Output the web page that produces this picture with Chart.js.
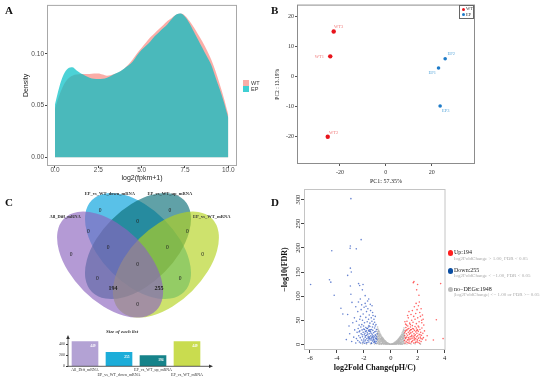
<!DOCTYPE html>
<html>
<head>
<meta charset="utf-8">
<script src="https://cdn.jsdelivr.net/npm/chart.js@4.4.0/dist/chart.umd.min.js"></script>
<style>
  body { margin: 0; background: #fff; }
  #fig { position: relative; width: 550px; height: 378px; overflow: hidden; font-family: "Liberation Serif", "Times New Roman", serif; }
  #fig canvas { position: absolute; }
  .t { position: absolute; white-space: nowrap; }
  .panel { font-weight: bold; font-size: 11px; line-height: 11px; color: #111; }
  .sw { position: absolute; }
  .dot { position: absolute; border-radius: 50%; }
</style>
</head>
<body>
<div id="fig">
  <canvas id="cDensity" width="270" height="185" style="left:0;top:0"></canvas>
  <canvas id="cPca" width="280" height="185" style="left:270px;top:0"></canvas>
  <canvas id="cVenn" width="275" height="140" style="left:0;top:185px"></canvas>
  <canvas id="cSizes" width="180" height="53" style="left:40px;top:325px"></canvas>
  <canvas id="cVolcano" width="280" height="193" style="left:270px;top:185px"></canvas>

  <div class="t panel" style="left:5px;top:5px">A</div>
  <div class="t panel" style="left:271px;top:5px">B</div>
  <div class="t panel" style="left:5px;top:197px">C</div>
  <div class="t panel" style="left:271px;top:197px">D</div>

  <!-- density legend -->
  <div class="sw" style="left:243px;top:79.5px;width:6px;height:6px;background:rgba(248,118,109,0.6)"></div>
  <div class="sw" style="left:243px;top:85.5px;width:6px;height:6px;background:rgba(0,191,196,0.75)"></div>
  <div class="t" style="left:251px;top:78.5px;font:5.5px/8px 'Liberation Sans',sans-serif;color:#333">WT</div>
  <div class="t" style="left:251px;top:84.5px;font:5.5px/8px 'Liberation Sans',sans-serif;color:#333">EP</div>

  <!-- PCA legend -->
  <div style="position:absolute;left:459px;top:5px;width:15px;height:14px;border:1px solid #666;box-sizing:border-box;background:#fff"></div>
  <div class="dot" style="left:461.5px;top:7.5px;width:3px;height:3px;background:#e8141c"></div>
  <div class="dot" style="left:461.5px;top:13px;width:3px;height:3px;background:#1e7bc8"></div>
  <div class="t" style="left:466px;top:6px;font-size:4.5px;line-height:6px;color:#333">WT</div>
  <div class="t" style="left:466px;top:11.5px;font-size:4.5px;line-height:6px;color:#333">EP</div>

  <!-- volcano legend -->
  <div class="dot" style="left:447.5px;top:250px;width:5.5px;height:5.5px;background:#ff2020"></div>
  <div class="t" style="left:454px;top:249px;font-size:6px;line-height:7px;color:#222">Up:194</div>
  <div class="t" style="left:454px;top:256px;font-size:5px;line-height:6px;color:#aaa">log2FoldChange &gt; 1.00, FDR &lt; 0.05</div>
  <div class="dot" style="left:447.5px;top:268px;width:5.5px;height:5.5px;background:#0b4ea2"></div>
  <div class="t" style="left:454px;top:267px;font-size:6px;line-height:7px;color:#222">Down:255</div>
  <div class="t" style="left:454px;top:273px;font-size:5px;line-height:6px;color:#aaa">log2FoldChange &lt; &minus;1.00, FDR &lt; 0.05</div>
  <div class="dot" style="left:447.5px;top:286.5px;width:5.5px;height:5.5px;background:#bdbdbd"></div>
  <div class="t" style="left:454px;top:285.5px;font-size:6px;line-height:7px;color:#222">no&minus;DEGs:1948</div>
  <div class="t" style="left:454px;top:292px;font-size:5px;line-height:6px;color:#aaa">|log2FoldChange| &lt;= 1.00 or FDR &gt;= 0.05</div>
</div>

<script>
// ---------- data ----------
// A: expression density
const densityX = [0, 0.25, 0.5, 0.75, 1, 1.25, 1.5, 1.75, 2, 2.25, 2.5, 2.75, 3, 3.25, 3.5, 3.75, 4, 4.25, 4.5, 4.75,
  5, 5.25, 5.5, 5.75, 6, 6.25, 6.5, 6.75, 7, 7.25, 7.5, 7.75, 8, 8.25, 8.5, 8.75, 9, 9.25, 9.5, 9.75, 10];
const wtDensity = [0.047, 0.060, 0.070, 0.076, 0.079, 0.080, 0.0805, 0.0805, 0.0805, 0.081, 0.081, 0.080, 0.079, 0.0795,
  0.081, 0.083, 0.086, 0.090, 0.095, 0.101, 0.106, 0.111, 0.116, 0.120, 0.124, 0.128, 0.132, 0.135, 0.138, 0.139,
  0.137, 0.132, 0.126, 0.119, 0.112, 0.104, 0.095, 0.084, 0.071, 0.057, 0.041];
const epDensity = [0.051, 0.068, 0.080, 0.086, 0.087, 0.084, 0.081, 0.079, 0.077, 0.076, 0.0758, 0.076, 0.077, 0.079,
  0.081, 0.083, 0.086, 0.089, 0.093, 0.099, 0.104, 0.108, 0.112, 0.117, 0.121, 0.125, 0.129, 0.134, 0.138, 0.139,
  0.136, 0.130, 0.122, 0.114, 0.106, 0.098, 0.090, 0.078, 0.066, 0.053, 0.038];
const densityTicksX = [0, 2.5, 5, 7.5, 10];
const densityTicksY = [0, 0.05, 0.10];

// B: PCA
const wtNames = ['WT1', 'WT2', 'WT3'];
const wtPC1 = [-24.2, -25.3, -22.7];
const wtPC2 = [6.7, -20.2, 15.0];
const epNames = ['EP1', 'EP2', 'EP3'];
const epPC1 = [23.0, 25.9, 23.7];
const epPC2 = [2.8, 5.9, -9.9];
const pcaTicksX = [-20, 0, 20];
const pcaTicksY = [-20, -10, 0, 10, 20];

// C: Venn + set sizes
const vennSets = ['All_Diff_mRNA', 'EP_vs_WT_down_mRNA', 'EP_vs_WT_up_mRNA', 'EP_vs_WT_mRNA'];
const vennRegions = ['A', 'B', 'C', 'D', 'AB', 'BC', 'CD', 'AD', 'AC', 'BD', 'ABC', 'BCD', 'ACD', 'ABD', 'ABCD'];
const vennCounts = [0, 0, 0, 0, 0, 0, 0, 0, 0, 0, 0, 0, 194, 255, 0];
const setSizes = [449, 255, 194, 449];
const setTicks = [0, 200, 400];

// D: volcano  [log2FC, -log10(FDR)]
const upPoints = [
  [1.67,128],[1.99,124],[1.92,113],[2.09,102],[2.29,50],[3.38,51],[3.7,126],[3.16,9],[3.88,12],[1.72,130],
  [1.1,42],[1.2,48],[1.3,55],[1.4,44],[1.5,62],[1.55,50],[1.6,70],[1.65,46],[1.7,58],[1.75,78],
  [1.8,52],[1.85,64],[1.9,43],[1.95,72],[2.0,55],[2.05,80],[2.1,47],[2.15,66],[2.2,58],[2.25,74],
  [2.3,45],[2.35,61],[1.35,68],[1.45,41],[2.12,88],[1.88,85],[2.4,52],[1.25,60],[1.05,47],[2.45,40],
  [1.02,8],[1.04,18],[1.06,3],[1.08,27],[1.1,12],[1.12,35],[1.14,6],[1.16,22],[1.18,15],[1.2,30],
  [1.22,4],[1.24,19],[1.26,38],[1.28,10],[1.3,25],[1.32,14],[1.34,33],[1.36,7],[1.38,21],[1.4,28],
  [1.42,2.5],[1.44,16],[1.46,36],[1.48,11],[1.5,24],[1.52,31],[1.54,5],[1.56,19],[1.58,13],[1.6,39],
  [1.62,26],[1.64,8],[1.66,17],[1.68,32],[1.7,3],[1.72,22],[1.74,14],[1.76,29],[1.78,9],[1.8,37],
  [1.82,20],[1.84,12],[1.86,26],[1.88,5],[1.9,34],[1.92,16],[1.94,23],[1.96,10],[1.98,30],[2.0,18],
  [2.02,4],[2.04,27],[2.06,13],[2.08,36],[2.1,21],[2.13,8],[2.16,31],[2.19,15],[2.22,25],[2.25,6],
  [2.28,19],[2.31,34],[2.34,11],[2.38,23],[2.42,14],[2.5,28],[2.6,9],[2.7,18],[1.03,24],[1.13,29],
  [1.23,9],[1.33,3],[1.43,23],[1.53,17],[1.63,33],[1.73,11],[1.83,4],[1.93,29],[2.03,38],[2.14,2.5],
  [2.24,12],[1.17,40],[1.47,30],[1.07,14],[1.27,32],[1.57,6],[1.77,18],[1.97,7],[2.17,20],[1.37,11]
];
const downPoints = [
  [-2.96,302],[-4.38,194],[-3.0,204],[-3.02,199],[-2.56,198],[-2.2,217],[-5.95,124],[-4.55,134],[-4.45,129],[-4.2,102],
  [-3.7,75],[-3.56,63],[-3.2,62],[-3.0,158],[-2.93,150],[-3.2,143],[-3.0,121],[-2.96,104],[-2.88,87],[-2.39,126],
  [-2.31,122],[-2.06,124],[-2.11,113],[-2.26,94],[-2.16,82],[-1.9,101],[-1.64,94],[-1.84,79],[-1.39,80],[-1.32,60],
  [-2.7,55],[-2.55,48],[-2.45,68],[-2.35,40],[-2.25,58],[-2.2,72],[-2.1,50],[-2.05,63],[-1.95,45],[-1.9,85],
  [-1.85,56],[-1.8,68],[-1.75,47],[-1.7,74],[-1.65,52],[-1.6,61],[-1.55,44],[-1.5,70],[-1.45,55],[-1.4,48],
  [-1.35,66],[-1.3,42],[-1.25,52],[-1.2,46],[-1.15,58],[-1.1,41],[-2.6,78],[-2.4,88],[-2.15,41],[-1.98,77],
  [-1.72,90],[-1.52,83],[-2.82,45],[-3.1,38],[-2.3,52],[-1.62,39],
  [-2.55,12],[-2.5,25],[-2.45,8],[-2.42,33],[-2.38,18],[-2.33,5],[-2.3,28],[-2.27,14],[-2.22,36],[-2.2,22],
  [-2.17,9],[-2.13,30],[-2.1,16],[-2.07,4],[-2.05,25],[-2.02,38],[-2.0,11],[-1.97,20],[-1.95,31],[-1.92,7],
  [-1.9,15],[-1.88,27],[-1.85,35],[-1.83,3],[-1.8,19],[-1.78,12],[-1.75,24],[-1.73,33],[-1.7,8],[-1.68,17],
  [-1.65,28],[-1.63,5],[-1.6,22],[-1.58,13],[-1.55,37],[-1.53,9],[-1.5,26],[-1.48,18],[-1.45,3],[-1.43,31],
  [-1.4,14],[-1.38,21],[-1.35,7],[-1.33,29],[-1.3,11],[-1.28,24],[-1.25,4],[-1.23,17],[-1.2,34],[-1.18,9],
  [-1.15,20],[-1.13,13],[-1.1,27],[-1.08,6],[-1.05,16],[-1.03,10],[-1.02,22],[-1.12,2.5],[-1.22,6],[-1.42,2.2],
  [-1.62,11],[-1.87,9],[-2.12,20],[-2.35,26],[-2.6,3],[-2.75,15],[-2.9,6],[-3.05,22],[-3.3,10],[-2.68,30],
  [-1.06,31],[-1.16,38],[-1.26,14],[-1.36,36],[-1.46,23],[-1.56,16],[-1.66,36],[-1.76,4],[-1.96,2.5],[-2.24,3],
  [-1.32,18],[-1.52,30],[-1.72,21],[-1.92,23],[-1.11,18],[-1.19,26],[-1.41,9],[-1.61,30],[-1.81,28],[-2.01,32],
  [-1.07,12],[-1.17,5],[-1.27,9],[-1.37,16],[-1.47,12],[-1.57,27],[-1.67,14],[-1.77,33],[-1.87,18],[-2.04,7]
];
const nsPoints = [
  [0,0.2],[0.05,0.5],[-0.05,0.4],[0.1,1],[-0.1,0.9],[0.15,1.5],[-0.15,1.8],[0.2,2.5],[-0.2,2.2],[0.25,3],
  [-0.25,3.4],[0.3,4.2],[-0.3,3.9],[0.35,5],[-0.35,5.5],[0.4,6.2],[-0.4,6.8],[0.45,7.5],[-0.45,8],[0.5,9],
  [-0.5,9.5],[0.55,10.5],[-0.55,11.5],[0.6,12],[-0.6,13.5],[0.65,14],[-0.65,15],[0.7,16.5],[-0.7,17.5],[0.75,18],
  [-0.75,20],[0.8,21],[-0.8,23],[0.85,24],[-0.85,26],[0.9,27],[-0.9,29],[0.95,30],[-0.95,32],[0.98,34],
  [-0.98,36],[0.12,0.4],[-0.12,0.3],[0.22,0.9],[-0.22,1.1],[0.28,1.6],[-0.28,1.2],[0.33,2.1],[-0.33,2.6],[0.38,1.4],
  [-0.38,3.1],[0.42,3.6],[-0.42,2],[0.48,4.5],[-0.48,5.2],[0.52,2.8],[-0.52,6.1],[0.57,6.6],[-0.57,3.8],[0.62,8.1],
  [-0.62,7.2],[0.67,4.9],[-0.67,9.7],[0.72,10.9],[-0.72,5.6],[0.77,7.4],[-0.77,12.3],[0.82,13.8],[-0.82,8.9],[0.87,9.6],
  [-0.87,16.2],[0.92,17.5],[-0.92,11.4],[0.96,12.8],[-0.96,19.8],[0.99,21.6],[-0.99,14.7],[0.58,1.2],[-0.63,1.7],[0.7,2.3],
  [-0.75,2.9],[0.8,3.3],[-0.84,4.1],[0.88,5.4],[-0.9,6.3],[0.94,7.8],[-0.94,9.1],[0.78,0.8],[-0.7,0.6],[0.9,1.1],
  [-0.88,0.9],[0.97,25.5],[-0.97,24],[0.93,22.4],[-0.93,27],[0.84,18.6],[-0.86,21],[0.74,14.6],[-0.78,16.9],[0.64,11.2],
  [-0.68,13],[0.54,7.9],[-0.58,9.8],[-1.2,0.8],[-1.5,1.0],[-1.8,0.6],[-2.1,1.1],[1.2,0.9],[1.5,0.7],[1.8,1.1],
  [2.2,0.5],[-1.05,1.2],[1.05,1.1],
  [0.08,0.2],[-0.08,0.6],[0.18,0.5],[-0.18,0.7],[0.27,0.6],[-0.27,0.5],[0.32,1],[-0.32,0.8],[0.36,3],[-0.36,1.6],
  [0.41,0.7],[-0.41,4.4],[0.44,2.2],[-0.44,1],[0.47,6],[-0.47,3],[0.5,1.5],[-0.5,7],[0.53,5.5],[-0.53,1.9],
  [0.56,3.7],[-0.56,8.5],[0.59,9.6],[-0.59,5],[0.61,0.6],[-0.61,10.6],[0.63,6.4],[-0.63,3.1],[0.66,2.1],[-0.66,11.8],
  [0.68,12.5],[-0.68,7.6],[0.69,8.8],[-0.69,1.1],[0.71,4.2],[-0.71,14.8],[0.73,13.1],[-0.73,9.2],[0.76,1.6],[-0.76,10.4],
  [0.79,15.6],[-0.79,6.1],[0.81,10.2],[-0.81,18.5],[0.83,6.3],[-0.83,13.5],[0.86,20.5],[-0.86,2.4],[0.89,14.5],[-0.89,22.8],
  [0.91,3.5],[-0.91,17.9],[0.92,11.9],[-0.92,5.2],[0.95,19.2],[-0.95,26.5],[0.96,5.8],[-0.96,12.2],[0.98,16],[-0.98,8.4],
  [1.0,28.7],[-1.0,31],[0.99,9.3],[-0.99,4.6],[0.97,2.2],[-0.97,1.8],[0.85,0.5],[-0.85,0.4],[0.72,0.3],[-0.74,0.9],
  [0.65,1.9],[-0.6,2.5],[0.55,0.8],[-0.55,0.3],[0.45,1.2],[-0.46,1.4],[0.37,0.5],[-0.37,0.3],[0.6,4.6],[-0.64,5.8],
  [0.75,5.1],[-0.8,7.7],[0.87,12.1],[-0.87,11.1],[0.93,15.2],[-0.93,15.6],[0.96,22.1],[-0.96,21.4],[1.0,18.6],[-1.0,20.2],
  [0.82,16.7],[-0.82,19.4],[0.7,11.2],[-0.7,12.4],[0.58,7.1],[-0.6,8.8]
];
const volcanoTicksX = [-6, -4, -2, 0, 2, 4];
const volcanoTicksY = [0, 50, 100, 150, 200, 250, 300];

// ---------- layout / style ----------
const SERIF = '"Liberation Serif", "Times New Roman", serif';
const SANS = '"Liberation Sans", Arial, sans-serif';
Chart.defaults.font.family = SERIF;
Chart.defaults.animation = false;
Chart.defaults.responsive = false;
Chart.defaults.plugins.legend.display = false;
Chart.defaults.plugins.tooltip.enabled = false;

// quad venn geometry in unit square (cx, cy, semi-axes, rotation in degrees)
const vennShapes = [
  { cx: 0.35, cy: 0.47, a: 0.35, b: 0.20, rot: 135 },
  { cx: 0.50, cy: 0.57, a: 0.35, b: 0.20, rot: 135 },
  { cx: 0.50, cy: 0.57, a: 0.35, b: 0.20, rot: 45 },
  { cx: 0.65, cy: 0.47, a: 0.35, b: 0.20, rot: 45 }
];
const vennColors = ['rgb(140,100,190)', 'rgb(0,160,220)', 'rgb(10,110,120)', 'rgb(180,210,30)'];
const vennDrawOrder = [1, 2, 3, 0];
const vennNamePos = [[0.108, 0.724], [0.349, 0.848], [0.672, 0.848], [0.896, 0.727]];
const vennRegionPos = {
  A: [0.140, 0.522], B: [0.296, 0.758], C: [0.672, 0.758], D: [0.848, 0.522],
  AB: [0.233, 0.647], BC: [0.498, 0.701], CD: [0.765, 0.647], AD: [0.498, 0.256],
  AC: [0.281, 0.396], BD: [0.726, 0.396], ABC: [0.340, 0.561], BCD: [0.658, 0.561],
  ACD: [0.366, 0.339], ABD: [0.613, 0.339], ABCD: [0.498, 0.468]
};
const barColors = ['#b3a2d4', '#1cadd9', '#16838a', '#c9dc4f'];

// label offsets for the PCA sample names (px)
const wtLabelOffset = [[-11, 0.7], [6, -4], [5, -4.5]];
const epLabelOffset = [[-6.3, 5], [6, -4.6], [5.7, 5]];

const fixedTicks = vals => scale => { scale.ticks = vals.map(v => ({ value: v })); };

function framePlugin(color, width) {
  return {
    id: 'frame',
    afterDatasetsDraw(chart) {
      const { ctx, chartArea: a } = chart;
      ctx.save();
      ctx.strokeStyle = color;
      ctx.lineWidth = width;
      ctx.strokeRect(a.left + 0.5, a.top + 0.5, a.right - a.left - 1, a.bottom - a.top - 1);
      ctx.restore();
    }
  };
}

const toXY = (xs, ys) => xs.map((x, i) => ({ x, y: ys[i] }));
const pairs = arr => arr.map(p => ({ x: p[0], y: p[1] }));

// ---------- A: density ----------
new Chart(document.getElementById('cDensity'), {
  type: 'line',
  data: {
    datasets: [
      { label: 'WT', data: toXY(densityX, wtDensity), backgroundColor: 'rgba(248,118,109,0.6)', fill: 'origin', order: 1 },
      { label: 'EP', data: toXY(densityX, epDensity), backgroundColor: 'rgba(0,191,196,0.7)', fill: 'origin', order: 0 }
    ]
  },
  options: {
    layout: { padding: { top: 4, right: 33, left: 0, bottom: 0 } },
    elements: {
      point: { radius: 0 },
      line: { borderWidth: 0, borderColor: 'rgba(0,0,0,0)', cubicInterpolationMode: 'monotone' }
    },
    scales: {
      x: {
        type: 'linear', min: -0.46, max: 10.5,
        afterBuildTicks: fixedTicks(densityTicksX),
        afterFit: s => { s.height = 19; },
        grid: { drawOnChartArea: false, tickLength: 2, color: '#444' },
        border: { display: false },
        ticks: { callback: v => v.toFixed(1), color: '#4d4d4d', padding: -1.5, font: { family: SANS, size: 6.5 } },
        title: { display: true, text: 'log2(fpkm+1)', color: '#222', padding: { top: 0, bottom: 2.5 }, font: { family: SANS, size: 7 } }
      },
      y: {
        min: -0.0084, max: 0.1474,
        afterBuildTicks: fixedTicks(densityTicksY),
        afterFit: s => { s.width = 47; },
        grid: { drawOnChartArea: false, tickLength: 2, color: '#444' },
        border: { display: false },
        ticks: { callback: v => v.toFixed(2), color: '#4d4d4d', padding: 1, font: { family: SANS, size: 6.5 } },
        title: { display: true, text: 'Density', color: '#222', padding: { top: 22, bottom: 0 }, font: { family: SANS, size: 7 } }
      }
    }
  },
  plugins: [framePlugin('#a8a8a8', 1)]
});

// ---------- B: PCA ----------
const pcaLabelPlugin = {
  id: 'pcaLabels',
  afterDatasetsDraw(chart) {
    const ctx = chart.ctx;
    const groups = [
      { names: wtNames, offs: wtLabelOffset, color: '#f07a7a' },
      { names: epNames, offs: epLabelOffset, color: '#5aa8dc' }
    ];
    ctx.save();
    ctx.font = '4.5px ' + SERIF;
    ctx.textAlign = 'center';
    ctx.textBaseline = 'middle';
    groups.forEach((g, d) => {
      chart.getDatasetMeta(d).data.forEach((pt, i) => {
        ctx.fillStyle = g.color;
        ctx.fillText(g.names[i], pt.x + g.offs[i][0], pt.y + g.offs[i][1]);
      });
    });
    ctx.restore();
  }
};

new Chart(document.getElementById('cPca'), {
  type: 'scatter',
  data: {
    datasets: [
      { label: 'WT', data: toXY(wtPC1, wtPC2), pointRadius: 2.2, pointBackgroundColor: '#e8141c', pointBorderWidth: 0 },
      { label: 'EP', data: toXY(epPC1, epPC2), pointRadius: 1.8, pointBackgroundColor: '#1e7bc8', pointBorderWidth: 0 }
    ]
  },
  options: {
    layout: { padding: { top: 4, right: 75, left: 0, bottom: 0 } },
    scales: {
      x: {
        min: -38.7, max: 38.9,
        afterBuildTicks: fixedTicks(pcaTicksX),
        afterFit: s => { s.height = 21; },
        grid: { drawOnChartArea: false, tickLength: 2, color: '#555' },
        border: { display: false },
        ticks: { color: '#333', padding: 3, font: { size: 6 } },
        title: { display: true, text: 'PC1: 57.35%', color: '#222', padding: { top: 0, bottom: 0 }, font: { size: 6 } }
      },
      y: {
        min: -29.3, max: 24,
        afterBuildTicks: fixedTicks(pcaTicksY),
        afterFit: s => { s.width = 27; },
        grid: { drawOnChartArea: false, tickLength: 2, color: '#555' },
        border: { display: false },
        ticks: { color: '#333', padding: 1, font: { size: 6 } },
        title: { display: true, text: 'PC2 : 13.19%', color: '#222', padding: { top: 4.5, bottom: 0 }, font: { size: 5.5 } }
      }
    }
  },
  plugins: [framePlugin('#8c8c8c', 1), pcaLabelPlugin]
});

// ---------- C: Venn ----------
const vennPlugin = {
  id: 'venn',
  beforeDatasetsDraw(chart) {
    const { ctx, scales: { x, y } } = chart;
    const unit = x.getPixelForValue(1) - x.getPixelForValue(0);
    ctx.save();
    vennDrawOrder.forEach(i => {
      const e = vennShapes[i];
      ctx.globalAlpha = 0.65;
      ctx.fillStyle = vennColors[i];
      ctx.beginPath();
      ctx.ellipse(x.getPixelForValue(e.cx), y.getPixelForValue(e.cy), e.a * unit, e.b * unit,
        -e.rot * Math.PI / 180, 0, 2 * Math.PI);
      ctx.fill();
    });
    ctx.globalAlpha = 1;
    ctx.textAlign = 'center';
    ctx.textBaseline = 'middle';
    vennRegions.forEach((r, i) => {
      const p = vennRegionPos[r];
      const n = vennCounts[i];
      ctx.font = (n > 0 ? 'bold 6px ' : '5.5px ') + SERIF;
      ctx.fillStyle = '#222';
      ctx.fillText(String(n), x.getPixelForValue(p[0]), y.getPixelForValue(p[1]));
    });
    ctx.font = 'bold 4.5px ' + SERIF;
    ctx.fillStyle = '#333';
    vennSets.forEach((s, i) => {
      ctx.fillText(s, x.getPixelForValue(vennNamePos[i][0]), y.getPixelForValue(vennNamePos[i][1]));
    });
    ctx.restore();
  }
};

new Chart(document.getElementById('cVenn'), {
  type: 'scatter',
  data: { datasets: [] },
  options: {
    scales: {
      x: { type: 'linear', display: false, min: -0.2419, max: 1.2366 },
      y: { type: 'linear', display: false, min: 0.1452, max: 0.8978 }
    }
  },
  plugins: [vennPlugin]
});

// ---------- C: set sizes bar ----------
const sizeBarPlugin = {
  id: 'sizeBars',
  afterDatasetsDraw(chart) {
    const { ctx, chartArea: a } = chart;
    ctx.save();
    ctx.strokeStyle = '#333';
    ctx.fillStyle = '#333';
    ctx.lineWidth = 0.8;
    ctx.beginPath();
    ctx.moveTo(a.left, a.bottom);
    ctx.lineTo(a.right + 6, a.bottom);
    ctx.moveTo(a.left, a.bottom);
    ctx.lineTo(a.left, a.top + 2);
    ctx.stroke();
    ctx.beginPath();
    ctx.moveTo(a.right + 9, a.bottom);
    ctx.lineTo(a.right + 5, a.bottom - 1.8);
    ctx.lineTo(a.right + 5, a.bottom + 1.8);
    ctx.closePath();
    ctx.moveTo(a.left, a.top - 1);
    ctx.lineTo(a.left - 1.8, a.top + 3);
    ctx.lineTo(a.left + 1.8, a.top + 3);
    ctx.closePath();
    ctx.fill();
    ctx.font = 'bold 3.5px ' + SERIF;
    ctx.fillStyle = '#fff';
    ctx.textAlign = 'right';
    ctx.textBaseline = 'middle';
    chart.getDatasetMeta(0).data.forEach((bar, i) => {
      ctx.fillText(String(setSizes[i]), bar.x + bar.width / 2 - 2.5, bar.y + 4.5);
    });
    ctx.restore();
  }
};

new Chart(document.getElementById('cSizes'), {
  type: 'bar',
  data: {
    labels: vennSets.map((s, i) => (i % 2 ? ['', s] : s)),
    datasets: [{ data: setSizes, backgroundColor: barColors, barThickness: 26 }]
  },
  options: {
    layout: { padding: { top: 0, right: 16, left: 0, bottom: 0 } },
    plugins: {
      title: {
        display: true, text: 'Size of each list', color: '#333',
        padding: { top: 4, bottom: 1 }, font: { size: 5, style: 'italic' }
      }
    },
    scales: {
      x: {
        afterFit: s => { s.height = 11.7; },
        grid: { display: false, drawTicks: false, tickLength: 0 },
        border: { display: false },
        ticks: { autoSkip: false, maxRotation: 0, color: '#333', padding: 1, font: { size: 4 } }
      },
      y: {
        min: 0, max: 551,
        afterBuildTicks: fixedTicks(setTicks),
        afterFit: s => { s.width = 28; },
        grid: { drawOnChartArea: false, tickLength: 2, color: '#333' },
        border: { display: false },
        ticks: { color: '#333', padding: 1, font: { size: 4 } }
      }
    }
  },
  plugins: [sizeBarPlugin]
});

// ---------- D: volcano ----------
new Chart(document.getElementById('cVolcano'), {
  type: 'scatter',
  data: {
    datasets: [
      { label: 'Up', data: pairs(upPoints), pointRadius: 0.8, pointBackgroundColor: 'rgba(255,50,50,0.75)', pointBorderWidth: 0, order: 0 },
      { label: 'Down', data: pairs(downPoints), pointRadius: 0.8, pointBackgroundColor: 'rgba(40,80,190,0.7)', pointBorderWidth: 0, order: 0 },
      { label: 'no-DEGs', data: pairs(nsPoints), pointRadius: 0.8, pointBackgroundColor: 'rgba(180,180,180,0.85)', pointBorderWidth: 0, order: 1 }
    ]
  },
  options: {
    layout: { padding: { top: 1.5, right: 104.5, left: 0, bottom: 0 } },
    scales: {
      x: {
        min: -6.44, max: 4.06,
        afterBuildTicks: fixedTicks(volcanoTicksX),
        afterFit: s => { s.height = 28; },
        grid: { drawOnChartArea: false, tickLength: 3, color: '#444' },
        border: { display: false },
        ticks: { color: '#222', padding: 1.3, font: { size: 6.5 } },
        title: { display: true, text: 'log2Fold Change(pH/C)', color: '#111', padding: { top: 0, bottom: 5 }, font: { size: 8, weight: 'bold' } }
      },
      y: {
        min: -11.6, max: 322,
        afterBuildTicks: fixedTicks(volcanoTicksY),
        afterFit: s => { s.width = 34; },
        grid: { drawOnChartArea: false, tickLength: 3, color: '#444' },
        border: { display: false },
        ticks: { color: '#222', padding: -2, minRotation: 90, crossAlign: 'center', font: { size: 6.5 } },
        title: { display: true, text: '\u2212log10(FDR)', color: '#111', padding: { top: 10, bottom: 0 }, font: { size: 8, weight: 'bold' } }
      }
    }
  },
  plugins: [framePlugin('#c4c4c4', 1)]
});
</script>
</body>
</html>
